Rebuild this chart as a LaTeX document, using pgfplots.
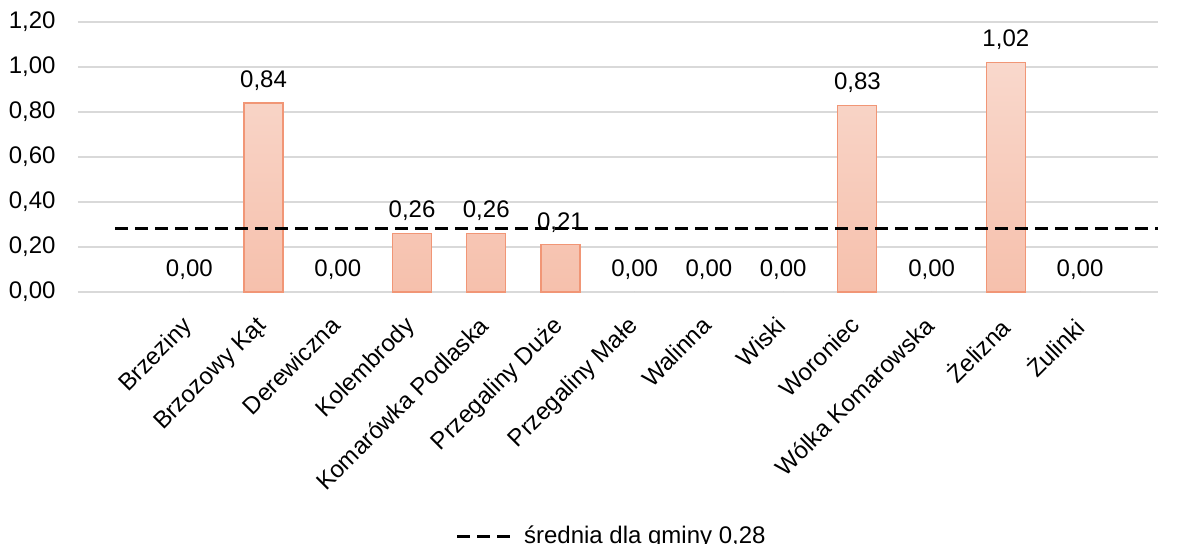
\documentclass[border=0pt]{standalone}
\usepackage{fontspec}
\setmainfont{Liberation Sans}
\usepackage{pgfplots}
\pgfplotsset{compat=1.18}
\definecolor{gridc}{RGB}{217,217,217}
\definecolor{bartop}{RGB}{249,216,204}
\definecolor{barbot}{RGB}{246,192,172}
\definecolor{baredge}{RGB}{241,150,118}
\newcommand{\cf}{\fontsize{12}{14}\selectfont}
\begin{document}
\cf
\begin{tikzpicture}
\begin{axis}[
  scale only axis, width=540pt, height=135pt,
  xmin=-1.5, xmax=13.05, ymin=0, ymax=1.2,
  ytick={0,0.2,0.4,0.6,0.8,1.0,1.2},
  ymajorgrids, grid style={gridc, line width=0.6pt},
  axis line style={draw=none},
  major tick length=0pt,
  xtick={0,...,12},
  xticklabels={Brzeziny, Brzozowy Kąt, Derewiczna, Kolembrody, Komarówka Podlaska, Przegaliny Duże, Przegaliny Małe, Walinna, Wiski, Woroniec, Wólka Komarowska, Żelizna, Żulinki},
  x tick label style={rotate=45, anchor=north east, inner sep=1pt, xshift=-10pt, yshift=-4pt},
  y tick label style={/pgf/number format/.cd, use comma, fixed, fixed zerofill, precision=2, assume math mode=true, /tikz/.cd, xshift=-7pt},
  tick label style={font=\cf},
  nodes near coords style={font=\cf, yshift=2pt, /pgf/number format/.cd, use comma, fixed, fixed zerofill, precision=2, assume math mode=true},
  legend style={at={(0.495,-0.905)}, anchor=center, draw=none, fill=none, font=\cf},
  legend image code/.code={\draw[#1] (0pt,0pt) -- (27.5pt,0pt); \path[draw=none] (0pt,0pt) rectangle (31.5pt,0.1pt);},
  clip=false,
]
\addplot[ybar, bar width=19.5pt, draw=baredge, line width=0.6pt, top color=bartop, bottom color=barbot, nodes near coords, forget plot]
  coordinates {(1,0.84) (3,0.26) (4,0.26) (5,0.21) (9,0.83) (11,1.02)};
\addplot[only marks, mark=*, mark size=0pt, mark options={draw=none, fill=none}, nodes near coords, forget plot]
  coordinates {(0,0) (2,0) (6,0) (7,0) (8,0) (10,0) (12,0)};
\addplot[black, line width=1.5pt, dash pattern=on 6.5pt off 3.5pt]
  coordinates {(-1,0.28) (13.05,0.28)};
\addlegendentry{średnia dla gminy 0,28}
\end{axis}
\pgfresetboundingbox
\path[use as bounding box] (-39pt,-126pt) rectangle (550pt,146pt);
\end{tikzpicture}
\end{document}
